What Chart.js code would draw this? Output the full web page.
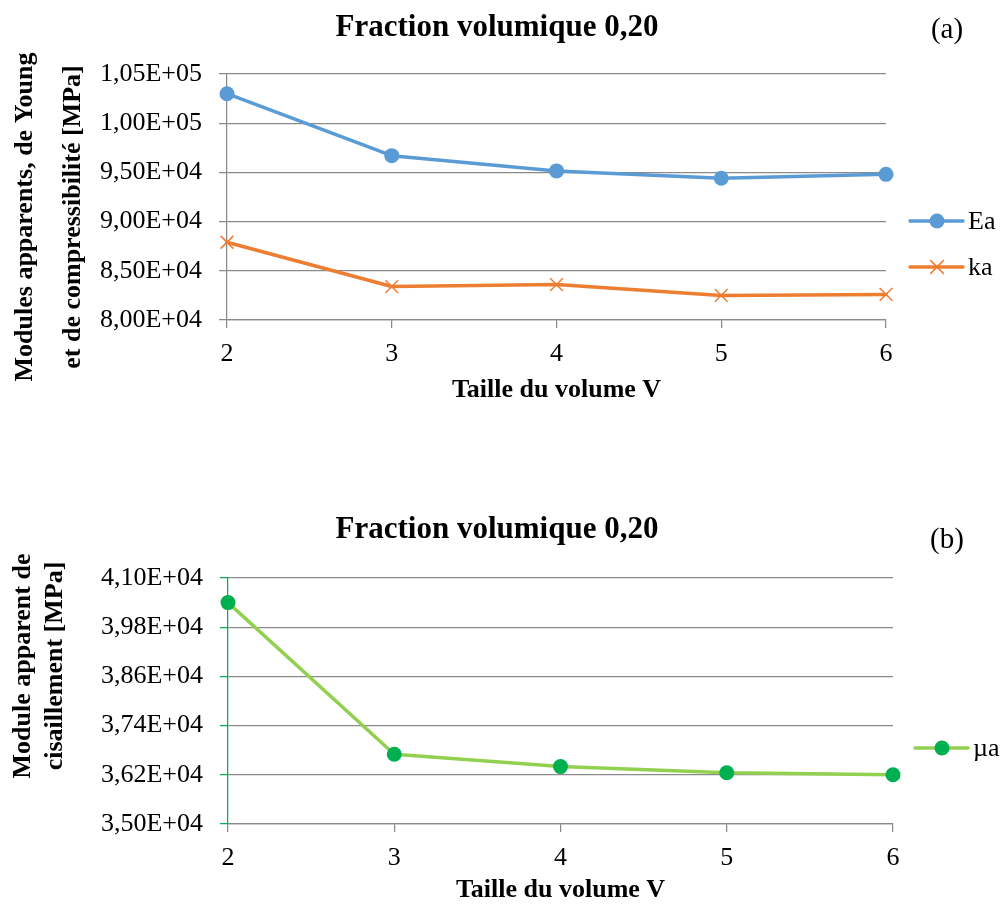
<!DOCTYPE html>
<html>
<head>
<meta charset="utf-8">
<title>Fraction volumique 0,20</title>
<script src="https://cdn.jsdelivr.net/npm/chart.js@4.4.1/dist/chart.umd.min.js"></script>
<style>
  body { margin: 0; background: #fff; }
  #wrap { position: relative; width: 1003px; height: 909px; }
  canvas { position: absolute; left: 0; }
  #topChart { top: 0; }
  #bottomChart { top: 455px; }
</style>
</head>
<body>
<div id="wrap">
  <canvas id="topChart" width="1003" height="455"></canvas>
  <canvas id="bottomChart" width="1003" height="454"></canvas>
</div>
<script>
// Volume sizes (x axis)
const sizes = ['2', '3', '4', '5', '6'];

// Apparent moduli [MPa]
const eaValues = [103000, 96700, 95150, 94400, 94800];
const kaValues = [87900, 83400, 83600, 82500, 82600];
const muValues = [40400, 36700, 36400, 36250, 36200];

// Y axis ranges
const topRange = { min: 80000, max: 105000, step: 5000 };
const bottomRange = { min: 35000, max: 41000, step: 1200 };

const SERIF = '"Liberation Serif", "Times New Roman", serif';
const GRID = '#8a8a8a';

// 103000 -> "1,03E+05"
function sci(v) {
  const parts = v.toExponential(2).split('e');
  const n = parseInt(parts[1], 10);
  return parts[0].replace('.', ',') + 'E' + (n < 0 ? '-' : '+') + String(Math.abs(n)).padStart(2, '0');
}

// Titles, rotated y title and the line+marker legend
const panelText = {
  id: 'panelText',
  afterDraw(chart, args, opts) {
    const ctx = chart.ctx;
    ctx.save();
    ctx.fillStyle = '#000';
    ctx.textBaseline = 'middle';
    ctx.textAlign = 'center';

    ctx.font = 'bold 31px ' + SERIF;
    ctx.fillText(opts.title, opts.titleX, opts.titleY);

    ctx.font = '29px ' + SERIF;
    ctx.fillText(opts.tag, opts.tagX, opts.tagY);

    ctx.font = 'bold 26px ' + SERIF;
    opts.yTitle.forEach((line, i) => {
      ctx.save();
      ctx.translate(opts.yTitleX[i], opts.yTitleY);
      ctx.rotate(-Math.PI / 2);
      ctx.fillText(line, 0, 0);
      ctx.restore();
    });

    chart.data.datasets.forEach((ds, i) => {
      const x = opts.legendX;
      const y = opts.legendY[i];
      ctx.strokeStyle = ds.borderColor;
      ctx.lineWidth = ds.borderWidth;
      ctx.lineCap = 'round';
      ctx.beginPath();
      ctx.moveTo(x, y);
      ctx.lineTo(x + 53, y);
      ctx.stroke();

      ctx.fillStyle = ds.pointBackgroundColor;
      ctx.strokeStyle = ds.pointBorderColor;
      ctx.lineWidth = ds.pointBorderWidth;
      Chart.helpers.drawPoint(ctx, {
        pointStyle: ds.pointStyle,
        radius: ds.pointRadius,
        borderWidth: ds.pointBorderWidth,
        rotation: 0
      }, x + 27, y);

      ctx.fillStyle = '#000';
      ctx.textAlign = 'left';
      ctx.font = '26px ' + SERIF;
      ctx.fillText(ds.label, x + 58, y + 1);
    });
    ctx.restore();
  }
};

function buildScales(range, yWidth, xHeight, xTitlePad, yBorderColor, yTickColor) {
  return {
    x: {
      type: 'category',
      offset: false,
      grid: { display: true, drawOnChartArea: false, drawTicks: true, tickLength: 8, color: GRID, lineWidth: 1.25 },
      border: { display: true, color: GRID, width: 1.25 },
      ticks: { color: '#000', font: { family: SERIF, size: 26 }, padding: 11, maxRotation: 0, autoSkip: false },
      title: {
        display: true,
        text: 'Taille du volume V',
        color: '#000',
        font: { family: SERIF, size: 26, weight: 'bold' },
        padding: { top: 0, bottom: xTitlePad }
      },
      afterFit(scale) { scale.height = xHeight; }
    },
    y: {
      min: range.min,
      max: range.max,
      grid: { display: true, drawOnChartArea: true, drawTicks: true, tickLength: 8, color: GRID, tickColor: yTickColor, lineWidth: 1.25 },
      border: { display: true, color: yBorderColor, width: 1.25 },
      ticks: {
        stepSize: range.step,
        color: '#000',
        font: { family: SERIF, size: 26 },
        padding: 17,
        callback: (v) => sci(v)
      },
      afterFit(scale) { scale.width = yWidth; }
    }
  };
}

function lineSet(label, data, lineColor, pointColor, style, radius, borderW) {
  return {
    label: label,
    data: data,
    borderColor: lineColor,
    borderWidth: 3.5,
    borderCapStyle: 'round',
    borderJoinStyle: 'round',
    tension: 0,
    fill: false,
    clip: false,
    pointStyle: style,
    pointRadius: radius,
    pointBackgroundColor: pointColor,
    pointBorderColor: pointColor,
    pointBorderWidth: borderW
  };
}

const common = {
  responsive: false,
  animation: false,
  devicePixelRatio: 1,
  events: []
};

new Chart(document.getElementById('topChart'), {
  type: 'line',
  data: {
    labels: sizes,
    datasets: [
      lineSet('Ea', eaValues, '#5b9bd5', '#5b9bd5', 'circle', 7.5, 0),
      lineSet('ka', kaValues, '#ed7d31', '#ed7d31', 'crossRot', 9, 1.5)
    ]
  },
  options: Object.assign({}, common, {
    layout: { padding: { left: 0, right: 117, top: 74, bottom: 0 } },
    plugins: {
      legend: { display: false },
      tooltip: { enabled: false },
      panelText: {
        title: 'Fraction volumique 0,20', titleX: 497, titleY: 28,
        tag: '(a)', tagX: 947, tagY: 30,
        yTitle: ['Modules apparents, de Young', 'et de compressibilité [MPa]'],
        yTitleX: [25, 73], yTitleY: 217,
        legendX: 910, legendY: [221, 267]
      }
    },
    scales: buildScales(topRange, 227, 135, 49, GRID, GRID)
  }),
  plugins: [panelText]
});

new Chart(document.getElementById('bottomChart'), {
  type: 'line',
  data: {
    labels: sizes,
    datasets: [
      lineSet('\u00b5a', muValues, '#92d050', '#00b050', 'circle', 7.5, 0)
    ]
  },
  options: Object.assign({}, common, {
    layout: { padding: { left: 0, right: 110, top: 123, bottom: 0 } },
    plugins: {
      legend: { display: false },
      tooltip: { enabled: false },
      panelText: {
        title: 'Fraction volumique 0,20', titleX: 497, titleY: 75,
        tag: '(b)', tagX: 947, tagY: 85,
        yTitle: ['Module apparent de', 'cisaillement [MPa]'],
        yTitleX: [23, 55], yTitleY: 211,
        legendX: 915, legendY: [293]
      }
    },
    scales: buildScales(bottomRange, 228, 85, 3, '#00b050', '#00b050')
  }),
  plugins: [panelText]
});
</script>
</body>
</html>
